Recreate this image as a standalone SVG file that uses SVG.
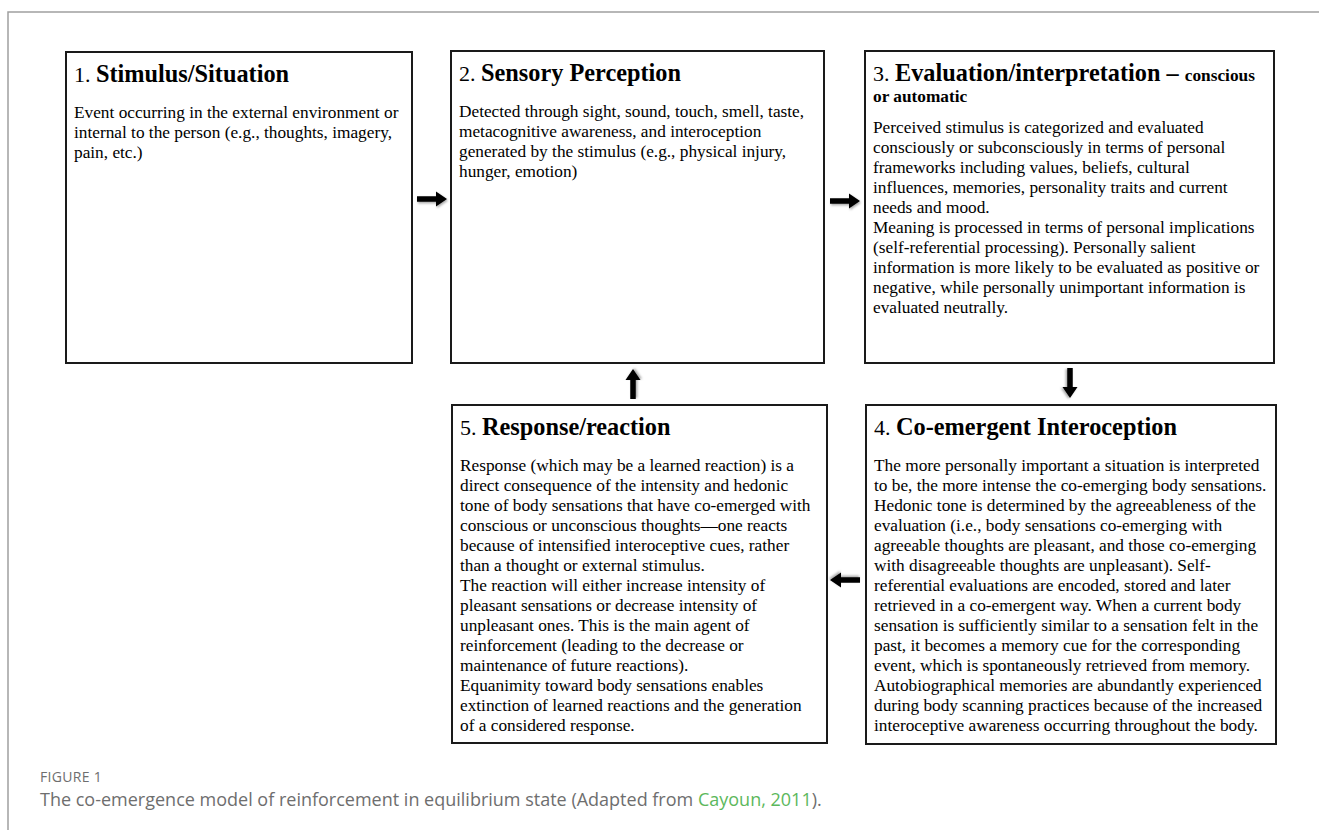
<svg xmlns="http://www.w3.org/2000/svg" width="1319" height="830" viewBox="0 0 1319 830">
<style>
.box{fill:#fff;stroke:#1a1a1a;stroke-width:2}
.t{font-family:"Liberation Serif","Times New Roman",serif;fill:#000}
.num{font-size:22px}
.ttl{font-size:24.3px;font-weight:bold}
.sub{font-size:17.3px;font-weight:bold}
.body{font-size:17.3px}
.arrow{fill:#000;filter:url(#sh)}
.cap{font-family:"Open Sans","Liberation Sans",sans-serif;fill:#6e6e6e}
</style>
<defs>
<filter id="sh" x="-50%" y="-50%" width="200%" height="200%">
<feDropShadow dx="1" dy="1.5" stdDeviation="1" flood-color="#000" flood-opacity="0.35"/>
</filter>
<path id="arr" d="M0,-2.7 H19 V-7.5 L30,0 L19,7.5 V2.7 H0 Z"/>
</defs>
<rect width="1319" height="830" fill="#fff"/>
<path d="M8,830 V12 H1319" fill="none" stroke="#a0a0a0" stroke-width="1.5"/>

<g id="node1">
<rect class="box" x="66" y="52" width="346" height="311"/>
<text class="t" x="74" y="82"><tspan class="num">1. </tspan><tspan class="ttl">Stimulus/Situation</tspan></text>
<text class="t body" x="74" y="118">Event occurring in the external environment or</text>
<text class="t body" x="74" y="138">internal to the person (e.g., thoughts, imagery,</text>
<text class="t body" x="74" y="158">pain, etc.)</text>
</g>

<g id="node2">
<rect class="box" x="451" y="51" width="373" height="312"/>
<text class="t" x="459" y="81"><tspan class="num">2. </tspan><tspan class="ttl">Sensory Perception</tspan></text>
<text class="t body" x="459" y="117">Detected through sight, sound, touch, smell, taste,</text>
<text class="t body" x="459" y="137">metacognitive awareness, and interoception</text>
<text class="t body" x="459" y="157">generated by the stimulus (e.g., physical injury,</text>
<text class="t body" x="459" y="177">hunger, emotion)</text>
</g>

<g id="node3">
<rect class="box" x="865" y="51" width="409" height="312"/>
<text class="t" x="873" y="81"><tspan class="num">3. </tspan><tspan class="ttl">Evaluation/interpretation – </tspan><tspan class="sub">conscious</tspan></text>
<text class="t sub" x="873" y="102">or automatic</text>
<text class="t body" x="873" y="133">Perceived stimulus is categorized and evaluated</text>
<text class="t body" x="873" y="153">consciously or subconsciously in terms of personal</text>
<text class="t body" x="873" y="173">frameworks including values, beliefs, cultural</text>
<text class="t body" x="873" y="193">influences, memories, personality traits and current</text>
<text class="t body" x="873" y="213">needs and mood.</text>
<text class="t body" x="873" y="233">Meaning is processed in terms of personal implications</text>
<text class="t body" x="873" y="253">(self-referential processing). Personally salient</text>
<text class="t body" x="873" y="273">information is more likely to be evaluated as positive or</text>
<text class="t body" x="873" y="293">negative, while personally unimportant information is</text>
<text class="t body" x="873" y="313">evaluated neutrally.</text>
</g>

<g id="node4">
<rect class="box" x="866" y="405" width="410" height="339"/>
<text class="t" x="874" y="435"><tspan class="num">4. </tspan><tspan class="ttl">Co-emergent Interoception</tspan></text>
<text class="t body" x="874" y="471">The more personally important a situation is interpreted</text>
<text class="t body" x="874" y="491">to be, the more intense the co-emerging body sensations.</text>
<text class="t body" x="874" y="511">Hedonic tone is determined by the agreeableness of the</text>
<text class="t body" x="874" y="531">evaluation (i.e., body sensations co-emerging with</text>
<text class="t body" x="874" y="551">agreeable thoughts are pleasant, and those co-emerging</text>
<text class="t body" x="874" y="571">with disagreeable thoughts are unpleasant). Self-</text>
<text class="t body" x="874" y="591">referential evaluations are encoded, stored and later</text>
<text class="t body" x="874" y="611">retrieved in a co-emergent way. When a current body</text>
<text class="t body" x="874" y="631">sensation is sufficiently similar to a sensation felt in the</text>
<text class="t body" x="874" y="651">past, it becomes a memory cue for the corresponding</text>
<text class="t body" x="874" y="671">event, which is spontaneously retrieved from memory.</text>
<text class="t body" x="874" y="691">Autobiographical memories are abundantly experienced</text>
<text class="t body" x="874" y="711">during body scanning practices because of the increased</text>
<text class="t body" x="874" y="731">interoceptive awareness occurring throughout the body.</text>
</g>

<g id="node5">
<rect class="box" x="452" y="405" width="375" height="338"/>
<text class="t" x="460" y="435"><tspan class="num">5. </tspan><tspan class="ttl">Response/reaction</tspan></text>
<text class="t body" x="460" y="471">Response (which may be a learned reaction) is a</text>
<text class="t body" x="460" y="491">direct consequence of the intensity and hedonic</text>
<text class="t body" x="460" y="511">tone of body sensations that have co-emerged with</text>
<text class="t body" x="460" y="531">conscious or unconscious thoughts—one reacts</text>
<text class="t body" x="460" y="551">because of intensified interoceptive cues, rather</text>
<text class="t body" x="460" y="571">than a thought or external stimulus.</text>
<text class="t body" x="460" y="591">The reaction will either increase intensity of</text>
<text class="t body" x="460" y="611">pleasant sensations or decrease intensity of</text>
<text class="t body" x="460" y="631">unpleasant ones. This is the main agent of</text>
<text class="t body" x="460" y="651">reinforcement (leading to the decrease or</text>
<text class="t body" x="460" y="671">maintenance of future reactions).</text>
<text class="t body" x="460" y="691">Equanimity toward body sensations enables</text>
<text class="t body" x="460" y="711">extinction of learned reactions and the generation</text>
<text class="t body" x="460" y="731">of a considered response.</text>
</g>

<g id="connectors">
<use href="#arr" class="arrow" transform="translate(417,199)"/>
<use href="#arr" class="arrow" transform="translate(830,201)"/>
<use href="#arr" class="arrow" transform="translate(1070,368) rotate(90)"/>
<use href="#arr" class="arrow" transform="translate(860,580) rotate(180)"/>
<use href="#arr" class="arrow" transform="translate(633,399) rotate(-90)"/>
</g>

<text class="cap" x="40" y="782" font-size="14" letter-spacing="0.3">FIGURE 1</text>
<text class="cap" x="40" y="806" font-size="18">The co-emergence model of reinforcement in equilibrium state (Adapted from <tspan fill="#5cb85c">Cayoun, 2011</tspan>).</text>
</svg>
